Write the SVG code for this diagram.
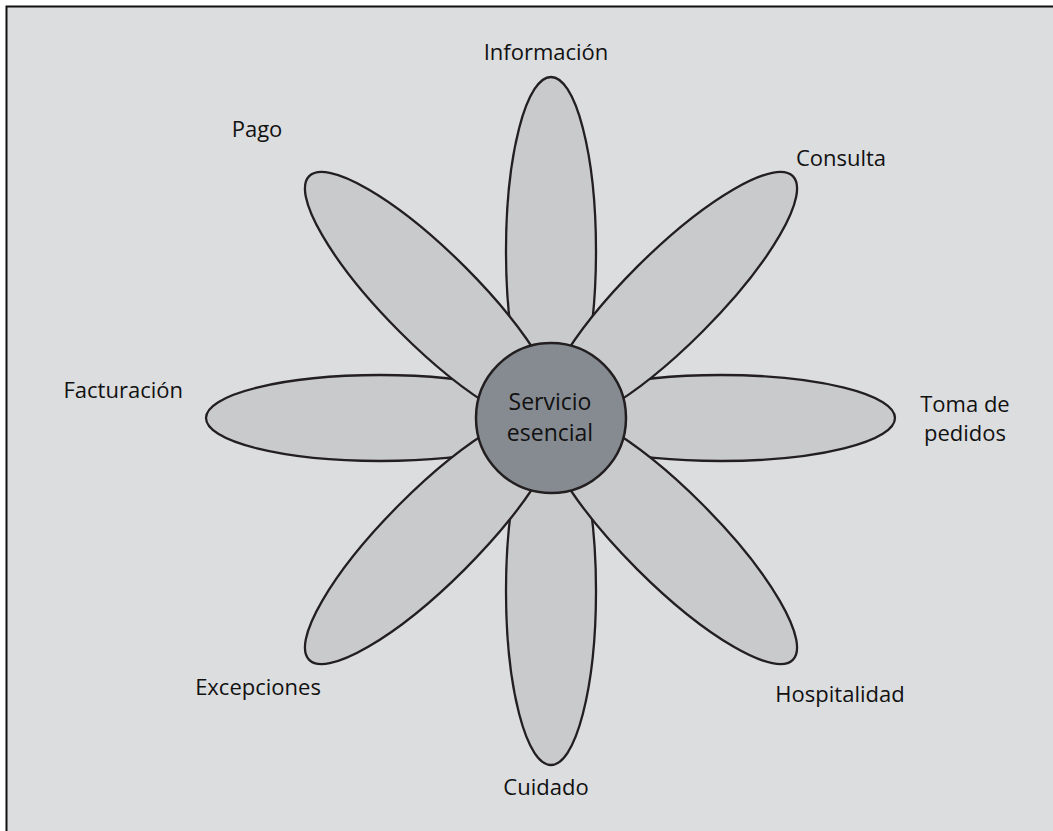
<svg xmlns="http://www.w3.org/2000/svg" width="1053" height="831" viewBox="0 0 1053 831">
<defs>
<style>
.frame{fill:#dcdddf;stroke:#111;stroke-width:2}
.petal{fill:#c9cacc;stroke:#231f20;stroke-width:2.3}
.core{fill:#868b92;stroke:#231f20;stroke-width:2.5}
.lbl{font-family:"Open Sans","Liberation Sans",sans-serif;font-size:22px;fill:#111}
.mid{text-anchor:middle}
</style>
</defs>
<rect class="frame" x="6.5" y="6.5" width="1060" height="840"/>
<g id="petals">
<g id="p-informacion"><ellipse class="petal" cx="551" cy="251" rx="45" ry="174"/></g>
<g id="p-cuidado"><ellipse class="petal" cx="551" cy="591" rx="45" ry="174"/></g>
<g id="p-facturacion"><ellipse class="petal" cx="380" cy="418" rx="174" ry="43"/></g>
<g id="p-toma"><ellipse class="petal" cx="721" cy="418" rx="174" ry="43"/></g>
<g id="p-pago"><ellipse class="petal" cx="0" cy="0" rx="174" ry="46" transform="translate(432.2 299.2) rotate(45)"/></g>
<g id="p-consulta"><ellipse class="petal" cx="0" cy="0" rx="174" ry="46" transform="translate(669.8 299.2) rotate(-45)"/></g>
<g id="p-excepciones"><ellipse class="petal" cx="0" cy="0" rx="174" ry="46" transform="translate(432.2 536.8) rotate(-45)"/></g>
<g id="p-hospitalidad"><ellipse class="petal" cx="0" cy="0" rx="174" ry="46" transform="translate(669.8 536.8) rotate(45)"/></g>
</g>
<g id="core">
<circle class="core" cx="551" cy="418" r="75"/>
<text class="lbl mid" x="550" y="410" style="font-size:23px">Servicio</text>
<text class="lbl mid" x="550" y="441" style="font-size:23px">esencial</text>
</g>
<g id="labels">
<text id="t-informacion" class="lbl mid" x="546" y="60">Información</text>
<text id="t-pago" class="lbl mid" x="257" y="137">Pago</text>
<text id="t-consulta" class="lbl mid" x="841" y="166">Consulta</text>
<text id="t-toma" class="lbl mid" x="965" y="412">Toma de<tspan x="965" y="441">pedidos</tspan></text>
<text id="t-facturacion" class="lbl" x="183" y="398" text-anchor="end">Facturación</text>
<text id="t-hospitalidad" class="lbl mid" x="840" y="702">Hospitalidad</text>
<text id="t-excepciones" class="lbl mid" x="258" y="695">Excepciones</text>
<text id="t-cuidado" class="lbl mid" x="546" y="795">Cuidado</text>
</g>
</svg>
